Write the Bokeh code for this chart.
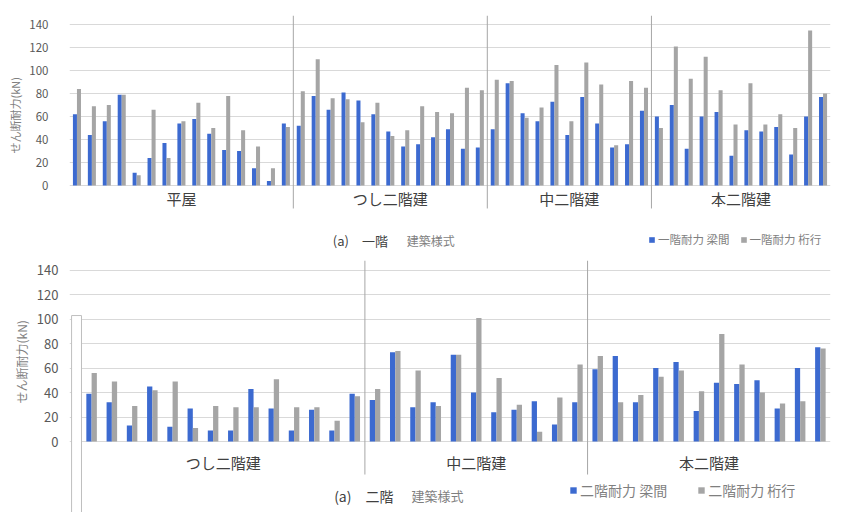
from bokeh.plotting import figure
from bokeh.layouts import column
from bokeh.models import (ColumnDataSource, FixedTicker, Range1d, Legend, LegendItem, Title)
from bokeh.core.properties import value
from bokeh.transform import dodge
from bokeh.embed import file_html
from bokeh.resources import INLINE

FONT = "Noto Sans CJK JP"
BLUE = "#3c6ad0"
GRAY = "#a5a5a5"

# ---- 一階: せん断耐力 (kN) ----
groups_1f = ["平屋", "つし二階建", "中二階建", "本二階建"]
beam_1f_hiraya = [62, 44, 56, 79, 11, 24, 37, 54, 58, 45, 31, 30, 15, 4, 54]
girder_1f_hiraya = [84, 69, 70, 79, 9, 66, 24, 56, 72, 50, 78, 48, 34, 15, 51]
beam_1f_tsushi = [52, 78, 66, 81, 74, 62, 47, 34, 36, 42, 49, 32, 33]
girder_1f_tsushi = [82, 110, 76, 75, 55, 72, 43, 48, 69, 64, 63, 85, 83]
beam_1f_naka = [49, 89, 63, 56, 73, 44, 77, 54, 33, 36, 65]
girder_1f_naka = [92, 91, 59, 68, 105, 56, 107, 88, 35, 91, 85]
beam_1f_hon = [60, 70, 32, 60, 64, 26, 48, 47, 51, 27, 60, 77]
girder_1f_hon = [50, 121, 93, 112, 83, 53, 89, 53, 62, 50, 135, 80]

# ---- 二階: せん断耐力 (kN) ----
groups_2f = ["つし二階建", "中二階建", "本二階建"]
beam_2f_tsushi = [39, 32, 13, 45, 12, 27, 9, 9, 43, 27, 9, 26, 9, 39]
girder_2f_tsushi = [56, 49, 29, 42, 49, 11, 29, 28, 28, 51, 28, 28, 17, 37]
beam_2f_naka = [34, 73, 28, 32, 71, 40, 24, 26, 33, 14, 32]
girder_2f_naka = [43, 74, 58, 29, 71, 101, 52, 30, 8, 36, 63]
beam_2f_hon = [59, 70, 32, 60, 65, 25, 48, 47, 50, 27, 60, 77]
girder_2f_hon = [70, 32, 38, 53, 58, 41, 88, 63, 40, 31, 33, 76]

y_ticks = [0, 20, 40, 60, 80, 100, 120, 140]
y_max = 148
y_title = "せん断耐力(kN)"


def make_panel(groups, beams, girders, legend_labels, floor_text, cfg):
    beam = [v for g in beams for v in g]
    girder = [v for g in girders for v in g]
    n = len(beam)
    src = ColumnDataSource(dict(x=list(range(n)), beam=beam, girder=girder))

    sizes = [len(g) for g in beams]
    bounds, centers, start = [], [], 0
    for s in sizes:
        centers.append(start + (s - 1) / 2)
        start += s
        bounds.append(start - 0.5)
    bounds = bounds[:-1]

    # the frame runs down to the bottom of the canvas so that the
    # category labels, caption and legend can sit under the zero line
    h = cfg["height"]
    px_per_unit = (cfg["zero_px"] - cfg["top"]) / y_max
    y_bottom = -(h - cfg["zero_px"]) / px_per_unit
    x_start = -0.5 - cfg["pad_left"] / cfg["px_per_cat"]

    p = figure(width=841, height=h, output_backend="svg", toolbar_location=None,
               x_range=Range1d(x_start, n - 0.5), y_range=Range1d(y_bottom, y_max),
               min_border_left=cfg["left"], min_border_right=11,
               min_border_top=cfg["top"], min_border_bottom=0)
    p.outline_line_color = None
    p.background_fill_color = "white"
    p.xaxis.visible = False
    p.xgrid.visible = False

    # y axis and horizontal grid
    p.yaxis.ticker = FixedTicker(ticks=y_ticks)
    p.yaxis.axis_line_color = None
    p.yaxis.major_tick_line_color = None
    p.yaxis.minor_tick_line_color = None
    p.yaxis.major_label_text_font = FONT
    p.yaxis.major_label_text_font_size = cfg["tick_fs"]
    p.yaxis.major_label_text_color = "#595959"
    p.yaxis.major_label_standoff = cfg["ystand"]
    p.ygrid.grid_line_color = "#d9d9d9"
    p.ygrid.bounds = (-0.5, n - 0.5)

    p.add_layout(Title(text=y_title, align="left", offset=cfg["title_off"], standoff=8,
                       text_font=FONT, text_font_style="normal", text_font_size=cfg["title_fs"],
                       text_color="#7f7f7f"), "left")

    # group dividers, running from the top of the plot to below the category axis
    p.segment(x0=bounds, y0=[cfg["div_bottom"]] * len(bounds), x1=bounds,
              y1=[y_max] * len(bounds), line_color="#a6a6a6", line_width=1)

    w = cfg["bar_w"]
    r1 = p.vbar(x=dodge("x", -w / 2, range=p.x_range), top="beam", width=w, bottom=0,
                source=src, fill_color=BLUE, line_color=None)
    r2 = p.vbar(x=dodge("x", w / 2, range=p.x_range), top="girder", width=w, bottom=0,
                source=src, fill_color=GRAY, line_color=None)

    # category (group) labels
    p.text(x=centers, y=[cfg["group_y"]] * len(centers), text=groups, text_align="center",
           text_baseline="middle", text_font=value(FONT), text_font_size="15px",
           text_color="#404040")

    # caption: panel number and axis title
    cx, tx, cy = cfg["caption"]
    p.text(x=[cx], y=[cy], text=["(a)\u3000" + floor_text], text_baseline="middle",
           text_font=value(FONT), text_font_size=cfg["cap_fs"], text_color="#404040")
    p.text(x=[tx], y=[cy], text=["建築様式"], text_baseline="middle",
           text_font=value(FONT), text_font_size=cfg["cap2_fs"], text_color="#7f7f7f")

    legend = Legend(items=[LegendItem(label=legend_labels[0], renderers=[r1]),
                           LegendItem(label=legend_labels[1], renderers=[r2])],
                    location=cfg["legend_loc"], orientation="horizontal",
                    glyph_width=cfg["glyph"], glyph_height=cfg["glyph"],
                    label_standoff=3, spacing=cfg["legend_sp"], padding=0, margin=0,
                    label_height=14, border_line_color=None, background_fill_alpha=0,
                    label_text_font=FONT, label_text_font_size=cfg["legend_fs"],
                    label_text_color="#7f7f7f")
    p.add_layout(legend)
    return p


p1 = make_panel(groups_1f,
                [beam_1f_hiraya, beam_1f_tsushi, beam_1f_naka, beam_1f_hon],
                [girder_1f_hiraya, girder_1f_tsushi, girder_1f_naka, girder_1f_hon],
                ["一階耐力 梁間", "一階耐力 桁行"], "一階",
                dict(height=256, left=67, top=15, zero_px=185, pad_left=0, px_per_cat=14.96,
                     tick_fs="11.5px", title_fs="11px", title_off=103, ystand=15,
                     div_bottom=-20, group_y=-11.3, bar_w=0.27, glyph=7, legend_sp=10,
                     legend_fs="11.5px", legend_loc=(579, 9), caption=(17.15, 22.1, -47.9),
                     cap_fs="13px", cap2_fs="12px"))

p2 = make_panel(groups_2f,
                [beam_2f_tsushi, beam_2f_naka, beam_2f_hon],
                [girder_2f_tsushi, girder_2f_naka, girder_2f_hon],
                ["二階耐力 梁間", "二階耐力 桁行"], "二階",
                dict(height=256, left=68, top=4, zero_px=185, pad_left=12, px_per_cat=20.27,
                     tick_fs="13px", title_fs="12px", title_off=109, ystand=5,
                     div_bottom=-27, group_y=-17.2, bar_w=0.26, glyph=8, legend_sp=30,
                     legend_fs="14px", legend_loc=(500, 12), caption=(11.98, 15.8, -44.2),
                     cap_fs="14px", cap2_fs="13px"))

# narrow framed strip at the left edge of the lower plot area
p2.quad(left=[-0.99], right=[-0.5], bottom=[-70], top=[103], fill_color="white",
        line_color="#bfbfbf", line_width=1)

layout = column(p1, p2, spacing=0)
open("out.html", "w").write(file_html(layout, INLINE))
